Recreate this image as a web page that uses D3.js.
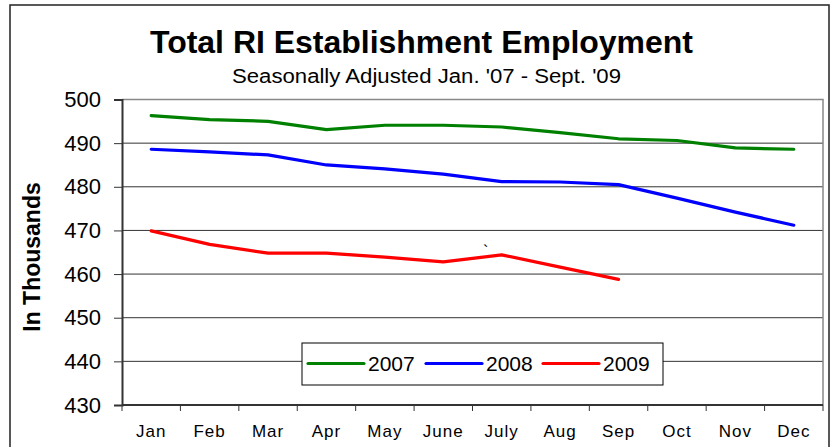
<!DOCTYPE html>
<html>
<head>
<meta charset="utf-8">
<script src="https://cdn.jsdelivr.net/npm/d3@7"></script>
<style>
  body { margin: 0; background: #fff; }
  text { font-family: "Liberation Sans", Arial, sans-serif; fill: #000; }
</style>
</head>
<body>
<div id="chart"></div>
<script>
// Data
const months = ["Jan", "Feb", "Mar", "Apr", "May", "June", "July", "Aug", "Sep", "Oct", "Nov", "Dec"];
const years = ["2007", "2008", "2009"];
const values2007 = [496.3, 495.4, 495.0, 493.1, 494.1, 494.1, 493.7, 492.4, 491.0, 490.6, 488.9, 488.6];
const values2008 = [488.6, 488.0, 487.3, 485.0, 484.1, 482.9, 481.2, 481.1, 480.5, 477.4, 474.2, 471.2];
const values2009 = [469.9, 466.8, 464.8, 464.8, 463.9, 462.8, 464.4, 461.6, 458.8];
const yTicks = [430, 440, 450, 460, 470, 480, 490, 500];
const colors = ["#008000", "#0000ff", "#ff0000"];

const W = 834, H = 447;
const margin = {top: 99.5, right: 11, bottom: 42, left: 122};
const width = W - margin.left - margin.right,
  height = H - margin.top - margin.bottom;

const svg = d3.select("#chart").append("svg")
  .attr("width", W)
  .attr("height", H);

// outer chart frame
svg.append("rect")
  .attr("x", 10).attr("y", 5)
  .attr("width", 819).attr("height", 450)
  .attr("fill", "#fff")
  .attr("stroke", "#222")
  .attr("stroke-width", 1.5);

// Titles
svg.append("text")
  .attr("x", 421.5).attr("y", 53)
  .attr("text-anchor", "middle")
  .attr("font-size", 31).attr("font-weight", "bold")
  .attr("textLength", 543).attr("lengthAdjust", "spacingAndGlyphs")
  .text("Total RI Establishment Employment");

svg.append("text")
  .attr("x", 426.5).attr("y", 83)
  .attr("text-anchor", "middle")
  .attr("font-size", 20)
  .attr("textLength", 389).attr("lengthAdjust", "spacingAndGlyphs")
  .text("Seasonally Adjusted Jan. '07 - Sept. '09");

const g = svg.append("g")
  .attr("transform", `translate(${margin.left},${margin.top})`);

const x = d3.scaleBand()
  .domain(months)
  .range([0, width]);

const y = d3.scaleLinear()
  .domain([430, 500])
  .range([height, 0]);

// gridlines
g.selectAll(".grid")
  .data(yTicks.filter(d => d > 430 && d < 500))
  .join("line")
  .attr("class", "grid")
  .attr("x1", 0).attr("x2", width)
  .attr("y1", d => y(d)).attr("y2", d => y(d))
  .attr("stroke", "#333")
  .attr("stroke-width", 1);

// plot frame top / right (gray)
g.append("path")
  .attr("d", `M0,0H${width}V${height}`)
  .attr("fill", "none")
  .attr("stroke", "#888")
  .attr("stroke-width", 1.5);

// Y axis
const yAxis = g.append("g")
  .call(d3.axisLeft(y).tickValues(yTicks).tickSize(8).tickPadding(13).tickFormat(d3.format("d")));
yAxis.select(".domain").attr("stroke", "#333").attr("stroke-width", 2);
yAxis.selectAll(".tick line").attr("stroke", "#333");
yAxis.selectAll(".tick text")
  .attr("font-size", 22)
  .attr("font-family", "Liberation Sans, Arial, sans-serif")
  .attr("fill", "#000");

// X axis: ticks at band boundaries
const xAxis = g.append("g")
  .attr("transform", `translate(0,${height})`);
xAxis.append("line")
  .attr("x1", 0).attr("x2", width)
  .attr("stroke", "#333").attr("stroke-width", 2);
xAxis.selectAll(".xtick")
  .data(months.concat(["end"]))
  .join("line")
  .attr("class", "xtick")
  .attr("x1", (d, i) => i * x.step()).attr("x2", (d, i) => i * x.step())
  .attr("y1", 0).attr("y2", 6)
  .attr("stroke", "#333");
xAxis.selectAll(".xlabel")
  .data(months)
  .join("text")
  .attr("class", "xlabel")
  .attr("x", d => x(d) + x.bandwidth() / 2)
  .attr("y", 32)
  .attr("text-anchor", "middle")
  .attr("font-size", 17)
  .attr("letter-spacing", 1)
  .text(d => d);

// Y axis title
svg.append("text")
  .attr("transform", "translate(40,257) rotate(-90)")
  .attr("text-anchor", "middle")
  .attr("font-size", 23)
  .attr("font-weight", "bold")
  .text("In Thousands");

// Lines
const line = d3.line()
  .x((d, i) => x(months[i]) + x.bandwidth() / 2)
  .y(d => y(d));

[values2007, values2008, values2009].forEach((vals, i) => {
  g.append("path")
    .datum(vals)
    .attr("fill", "none")
    .attr("stroke", colors[i])
    .attr("stroke-width", 3.2)
    .attr("stroke-linejoin", "round")
    .attr("stroke-linecap", "round")
    .attr("d", line);
});

// stray mark in the original
svg.append("text")
  .attr("x", 483).attr("y", 257)
  .attr("font-size", 16)
  .text("`");

// Legend
const legend = svg.append("g").attr("transform", "translate(302,343)");
legend.append("rect")
  .attr("width", 361).attr("height", 42)
  .attr("fill", "#fff")
  .attr("stroke", "#000")
  .attr("stroke-width", 1);

const legendX = [6, 124, 241];
years.forEach((yr, i) => {
  legend.append("line")
    .attr("x1", legendX[i]).attr("x2", legendX[i] + 56)
    .attr("y1", 20.5).attr("y2", 20.5)
    .attr("stroke", colors[i])
    .attr("stroke-width", 3.2)
    .attr("stroke-linecap", "round");
  legend.append("text")
    .attr("x", legendX[i] + 60)
    .attr("y", 28)
    .attr("font-size", 21)
    .text(yr);
});
</script>
</body>
</html>
